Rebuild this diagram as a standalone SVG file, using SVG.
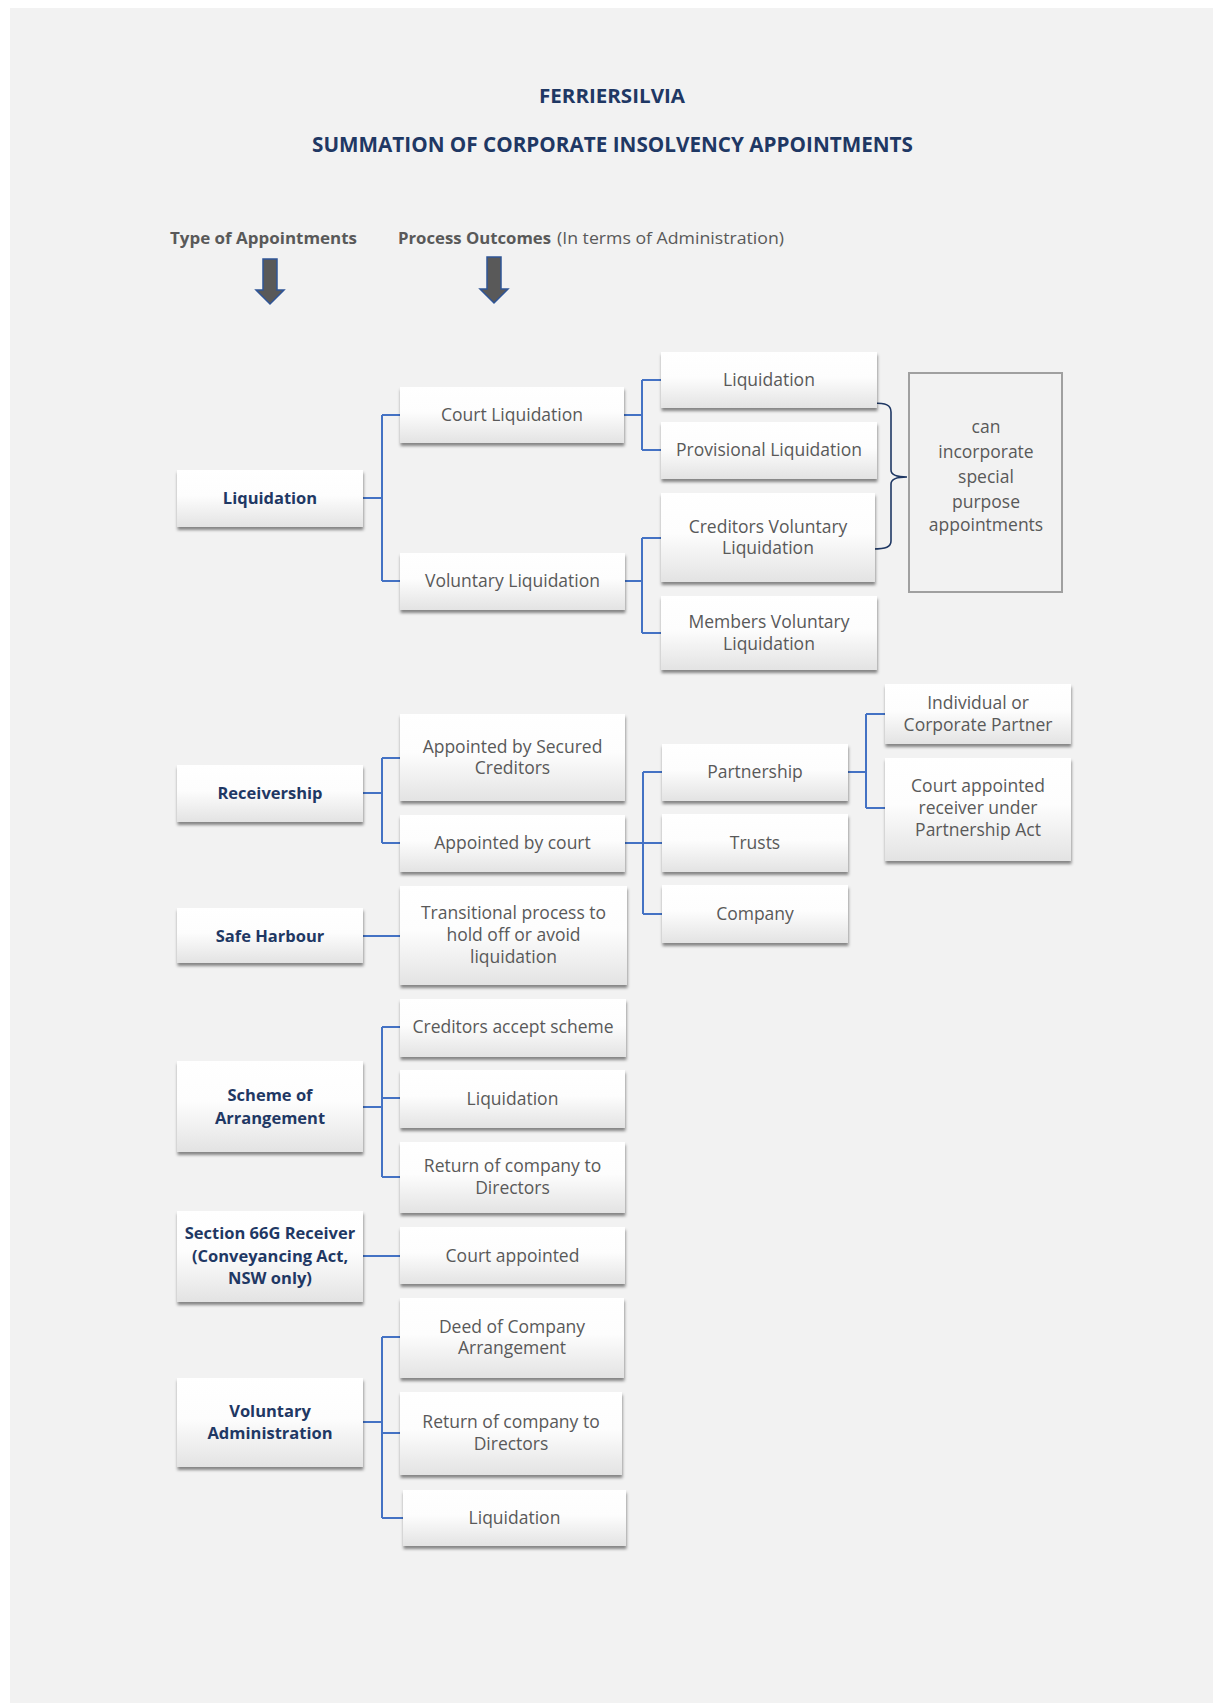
<svg xmlns="http://www.w3.org/2000/svg" width="1213" height="1703" viewBox="0 0 1213 1703">
<defs>
<linearGradient id="boxg" x1="0" y1="0" x2="0" y2="1">
<stop offset="0" stop-color="#ffffff"/>
<stop offset="0.45" stop-color="#fdfdfd"/>
<stop offset="1" stop-color="#e3e3e3"/>
</linearGradient>
<filter id="sh" x="-10%" y="-20%" width="120%" height="150%">
<feDropShadow dx="0.5" dy="3" stdDeviation="1.6" flood-color="#000" flood-opacity="0.45"/>
</filter>
</defs>
<style>
.bg{fill:#f2f2f2}
.box{fill:url(#boxg);filter:url(#sh)}
.t{font-family:"Open Sans","DejaVu Sans",sans-serif;font-size:17.5px;fill:#595959;text-anchor:middle}
.b{font-family:"Open Sans","DejaVu Sans",sans-serif;font-size:16.5px;font-weight:bold;fill:#1f3864;text-anchor:middle}
.title{font-family:"Open Sans","DejaVu Sans",sans-serif;font-weight:bold;fill:#1f3864;text-anchor:middle}
.hd{font-family:"Open Sans","DejaVu Sans",sans-serif;font-size:16.5px;fill:#595959}
.con{fill:none;stroke:#4472c4;stroke-width:2}
.brace{fill:none;stroke:#1f3864;stroke-width:1.6}
.note{fill:none;stroke:#a0a0a0;stroke-width:2}
.arr{fill:#595959;stroke:#2f5597;stroke-width:1.5}
</style>
<rect x="0" y="0" width="1213" height="1703" fill="#ffffff"/>
<rect class="bg" x="10" y="8" width="1203" height="1695"/>

<g id="title">
<text class="title" x="612" y="103" font-size="20" textLength="146" lengthAdjust="spacingAndGlyphs">FERRIERSILVIA</text>
<text class="title" x="612.5" y="152" font-size="21" textLength="601" lengthAdjust="spacingAndGlyphs">SUMMATION OF CORPORATE INSOLVENCY APPOINTMENTS</text>
</g>

<g id="headers">
<text class="hd" x="170" y="244" font-weight="bold" textLength="187" lengthAdjust="spacingAndGlyphs">Type of Appointments</text>
<text class="hd" x="398" y="244" font-weight="bold" textLength="153" lengthAdjust="spacingAndGlyphs">Process Outcomes</text>
<text class="hd" x="557" y="244" textLength="227" lengthAdjust="spacingAndGlyphs">(In terms of Administration)</text>
<path class="arr" d="M263,259 H277 V290 H284 L270,304 L256,290 H263 Z"/>
<path class="arr" d="M487,257 H501 V289 H508 L494,303 L480,289 H487 Z"/>
</g>

<g id="connectors">
<path class="con" d="M363,498 H382 M382,415 V581 M382,415 H400 M382,581 H400"/>
<path class="con" d="M624,415 H642 M642,380 V450 M642,380 H661 M642,450 H661"/>
<path class="con" d="M625,581 H642 M642,538 V633 M642,538 H661 M642,633 H661"/>
<path class="con" d="M363,793 H382 M382,758 V843 M382,758 H400 M382,843 H400"/>
<path class="con" d="M625,843 H643 M643,772 V914 M643,772 H662 M643,843 H662 M643,914 H662"/>
<path class="con" d="M848,772 H866 M866,714 V808 M866,714 H885 M866,808 H885"/>
<path class="con" d="M363,936 H400"/>
<path class="con" d="M363,1107 H382 M382,1027 V1177 M382,1027 H400 M382,1098 H400 M382,1177 H400"/>
<path class="con" d="M363,1256 H400"/>
<path class="con" d="M363,1422 H382 M382,1337 V1518 M382,1337 H400 M382,1433 H400 M382,1518 H403"/>
<path class="brace" d="M873,403 C886,403 891,405 891,412 L891,470 C891,475 896,477 907,477 C896,477 891,479 891,484 L891,541 C891,547 886,549 873,549"/>
</g>

<g id="n-liquidation"><rect class="box" x="177" y="470" width="186" height="57"/><text class="b" x="270" y="504">Liquidation</text></g>
<g id="n-receivership"><rect class="box" x="177" y="765" width="186" height="57"/><text class="b" x="270" y="799">Receivership</text></g>
<g id="n-safeharbour"><rect class="box" x="177" y="908" width="186" height="55"/><text class="b" x="270" y="942">Safe Harbour</text></g>
<g id="n-scheme"><rect class="box" x="177" y="1061" width="186" height="91"/><text class="b" x="270" y="1101">Scheme of</text><text class="b" x="270" y="1124">Arrangement</text></g>
<g id="n-section66g"><rect class="box" x="177" y="1211" width="186" height="91"/><text class="b" x="270" y="1239">Section 66G Receiver</text><text class="b" x="270" y="1262">(Conveyancing Act,</text><text class="b" x="270" y="1284">NSW only)</text></g>
<g id="n-va"><rect class="box" x="177" y="1378" width="186" height="89"/><text class="b" x="270" y="1417">Voluntary</text><text class="b" x="270" y="1439">Administration</text></g>

<g id="n-courtliq"><rect class="box" x="400" y="387" width="224" height="56"/><text class="t" x="512" y="421">Court Liquidation</text></g>
<g id="n-volliq"><rect class="box" x="400" y="553" width="225" height="57"/><text class="t" x="512.5" y="587">Voluntary Liquidation</text></g>
<g id="n-liq2"><rect class="box" x="661" y="352" width="216" height="56"/><text class="t" x="769" y="386">Liquidation</text></g>
<g id="n-provliq"><rect class="box" x="661" y="422" width="216" height="57"/><text class="t" x="769" y="456">Provisional Liquidation</text></g>
<g id="n-cvl"><rect class="box" x="661" y="493" width="214" height="89"/><text class="t" x="768" y="533">Creditors Voluntary</text><text class="t" x="768" y="554">Liquidation</text></g>
<g id="n-mvl"><rect class="box" x="661" y="596" width="216" height="74"/><text class="t" x="769" y="628">Members Voluntary</text><text class="t" x="769" y="650">Liquidation</text></g>
<g id="n-note"><rect class="note" x="909" y="373" width="153" height="219"/><text class="t" x="986" y="433">can</text><text class="t" x="986" y="458">incorporate</text><text class="t" x="986" y="483">special</text><text class="t" x="986" y="508">purpose</text><text class="t" x="986" y="531">appointments</text></g>

<g id="n-securedcred"><rect class="box" x="400" y="714" width="225" height="87"/><text class="t" x="512.5" y="753">Appointed by Secured</text><text class="t" x="512.5" y="774">Creditors</text></g>
<g id="n-bycourt"><rect class="box" x="400" y="815" width="225" height="57"/><text class="t" x="512.5" y="849">Appointed by court</text></g>
<g id="n-partnership"><rect class="box" x="662" y="744" width="186" height="57"/><text class="t" x="755" y="778">Partnership</text></g>
<g id="n-trusts"><rect class="box" x="662" y="814" width="186" height="58"/><text class="t" x="755" y="849">Trusts</text></g>
<g id="n-company"><rect class="box" x="662" y="885" width="186" height="58"/><text class="t" x="755" y="920">Company</text></g>
<g id="n-indiv"><rect class="box" x="885" y="684" width="186" height="60"/><text class="t" x="978" y="709">Individual or</text><text class="t" x="978" y="731">Corporate Partner</text></g>
<g id="n-courtrec"><rect class="box" x="885" y="758" width="186" height="103"/><text class="t" x="978" y="792">Court appointed</text><text class="t" x="978" y="814">receiver under</text><text class="t" x="978" y="836">Partnership Act</text></g>

<g id="n-transitional"><rect class="box" x="400" y="886" width="227" height="99"/><text class="t" x="513.5" y="919">Transitional process to</text><text class="t" x="513.5" y="941">hold off or avoid</text><text class="t" x="513.5" y="963">liquidation</text></g>
<g id="n-credaccept"><rect class="box" x="400" y="999" width="226" height="58"/><text class="t" x="513" y="1033">Creditors accept scheme</text></g>
<g id="n-liq3"><rect class="box" x="400" y="1070" width="225" height="58"/><text class="t" x="512.5" y="1105">Liquidation</text></g>
<g id="n-return1"><rect class="box" x="400" y="1142" width="225" height="71"/><text class="t" x="512.5" y="1172">Return of company to</text><text class="t" x="512.5" y="1194">Directors</text></g>
<g id="n-courtapp"><rect class="box" x="400" y="1227" width="225" height="57"/><text class="t" x="512.5" y="1262">Court appointed</text></g>
<g id="n-doca"><rect class="box" x="400" y="1298" width="224" height="80"/><text class="t" x="512" y="1333">Deed of Company</text><text class="t" x="512" y="1354">Arrangement</text></g>
<g id="n-return2"><rect class="box" x="400" y="1392" width="222" height="83"/><text class="t" x="511" y="1428">Return of company to</text><text class="t" x="511" y="1450">Directors</text></g>
<g id="n-liq4"><rect class="box" x="403" y="1490" width="223" height="56"/><text class="t" x="514.5" y="1524">Liquidation</text></g>
</svg>
